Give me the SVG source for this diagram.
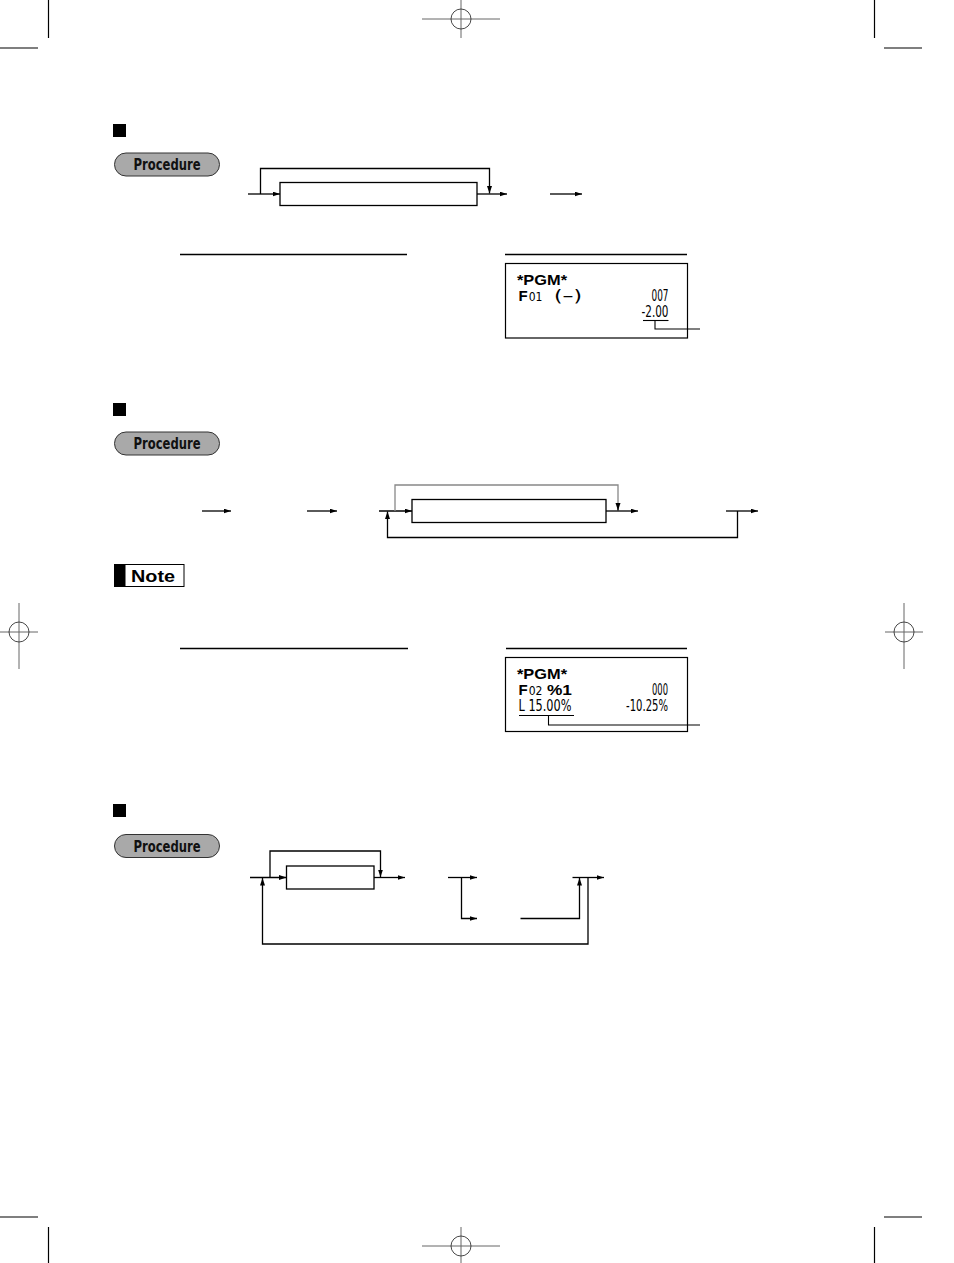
<svg xmlns="http://www.w3.org/2000/svg" width="954" height="1263" viewBox="0 0 954 1263">
<defs>
<marker id="ah" markerUnits="userSpaceOnUse" markerWidth="8" markerHeight="6" refX="7.5" refY="2.5" orient="auto">
<path d="M0,0 L7.5,2.5 L0,5 z" fill="#000"/>
</marker>
<style>
.crop{stroke:#000;stroke-width:1.2;fill:none}
.reg{stroke:#666;stroke-width:1;fill:none}
.regc{stroke:#333;stroke-width:0.9;fill:none}
.conn{stroke:#000;stroke-width:1.3;fill:none}
.conng{stroke:#888;stroke-width:1.3;fill:none}
.arr{marker-end:url(#ah)}
.box{fill:#fff;stroke:#000;stroke-width:1.3}
.sq{fill:#000}
.pill{fill:#a9a9a9;stroke:#333;stroke-width:1}
.ptxt{font-family:"Liberation Sans Narrow","DejaVu Sans Condensed","Liberation Sans",sans-serif;font-weight:bold;font-size:15px;fill:#111;text-anchor:middle}
.sep{stroke:#000;stroke-width:1.3}
.rcpt{fill:#fff;stroke:#000;stroke-width:1.2}
.rb{font-family:"Liberation Sans","DejaVu Sans",sans-serif;font-weight:bold;font-size:15px;fill:#000}
.rn{font-family:"DejaVu Sans Condensed","Liberation Sans Narrow",sans-serif;font-size:15px;fill:#000}
.rs{font-family:"DejaVu Sans Condensed","Liberation Sans Narrow",sans-serif;font-size:12px;fill:#000}
.note{font-family:"Liberation Sans","DejaVu Sans",sans-serif;font-weight:bold;font-size:17px;fill:#000}
</style>
</defs>
<rect width="954" height="1263" fill="#fff"/>

<g id="crop-marks">
<line class="crop" x1="48.5" y1="0" x2="48.5" y2="38"/>
<line class="crop" x1="0" y1="48" x2="38" y2="48"/>
<line class="crop" x1="874.5" y1="0" x2="874.5" y2="38"/>
<line class="crop" x1="884" y1="48" x2="922" y2="48"/>
<line class="crop" x1="48.5" y1="1227" x2="48.5" y2="1263"/>
<line class="crop" x1="0" y1="1217" x2="38" y2="1217"/>
<line class="crop" x1="874.5" y1="1227" x2="874.5" y2="1263"/>
<line class="crop" x1="884" y1="1217" x2="922" y2="1217"/>
<line class="reg" x1="461" y1="0" x2="461" y2="38"/>
<line class="reg" x1="422" y1="19" x2="500" y2="19"/>
<circle class="regc" cx="461" cy="19" r="10"/>
<line class="reg" x1="461" y1="1227" x2="461" y2="1263"/>
<line class="reg" x1="422" y1="1246" x2="500" y2="1246"/>
<circle class="regc" cx="461" cy="1246" r="10"/>
<line class="reg" x1="19" y1="603" x2="19" y2="669"/>
<line class="reg" x1="0" y1="632" x2="38" y2="632"/>
<circle class="regc" cx="19" cy="632" r="10"/>
<line class="reg" x1="904" y1="603" x2="904" y2="669"/>
<line class="reg" x1="885" y1="632" x2="923" y2="632"/>
<circle class="regc" cx="904" cy="632" r="10"/>
</g>

<!-- Section 1 -->
<g id="s1-marker"><rect class="sq" x="113" y="124" width="13" height="13"/></g>
<g id="s1-procedure">
<rect class="pill" x="114.5" y="153" width="105" height="23" rx="11.5"/>
<text class="ptxt" x="167" y="170" textLength="67" lengthAdjust="spacingAndGlyphs">Procedure</text>
</g>
<g id="s1-box"><rect class="box" x="280" y="182.5" width="197" height="23"/></g>
<g id="s1-connectors">
<path class="conn arr" d="M248,194 H280"/>
<path class="conn arr" d="M260.5,194 V168.5 H489.5 V193.5"/>
<path class="conn arr" d="M477,194 H507"/>
<path class="conn arr" d="M550,194 H582"/>
</g>
<g id="s1-separators">
<line class="sep" x1="180" y1="254.5" x2="407" y2="254.5"/>
<line class="sep" x1="505" y1="254.5" x2="687" y2="254.5"/>
</g>
<g id="s1-receipt">
<rect class="rcpt" x="505.5" y="263.5" width="182" height="74.5"/>
<text class="rb" x="517" y="285" textLength="50" lengthAdjust="spacingAndGlyphs">*PGM*</text>
<text x="518.5" y="301"><tspan class="rb">F</tspan><tspan class="rs" dx="1">01</tspan></text>
<text class="rn" x="554" y="301" textLength="28" lengthAdjust="spacingAndGlyphs">(–)</text>
<text class="rn" x="668.5" y="301" text-anchor="end" textLength="17" lengthAdjust="spacingAndGlyphs">007</text>
<text class="rn" x="668.5" y="317" text-anchor="end" textLength="27" lengthAdjust="spacingAndGlyphs">-2.00</text>
<line class="sep" x1="643" y1="320.5" x2="668.5" y2="320.5" style="stroke-width:1.1"/>
<path class="conn" d="M655,320.5 V329 H700" style="stroke-width:1.1"/>
</g>

<!-- Section 2 -->
<g id="s2-marker"><rect class="sq" x="113" y="403" width="13" height="13"/></g>
<g id="s2-procedure">
<rect class="pill" x="114.5" y="432" width="105" height="23" rx="11.5"/>
<text class="ptxt" x="167" y="449" textLength="67" lengthAdjust="spacingAndGlyphs">Procedure</text>
</g>
<g id="s2-box"><rect class="box" x="412" y="499.5" width="194" height="23"/></g>
<g id="s2-connectors">
<path class="conn arr" d="M202,511 H231"/>
<path class="conn arr" d="M307,511 H337"/>
<path class="conn arr" d="M379,511 H412"/>
<path class="conng" d="M395,511 V485 H618 V504"/>
<path class="conn arr" d="M618,503 V510.5"/>
<path class="conn arr" d="M606,511 H638"/>
<path class="conn arr" d="M726,511 H758"/>
<path class="conn arr" d="M737.5,511 V537.5 H387.5 V511.5"/>
</g>
<g id="s2-note">
<rect x="114" y="564" width="11" height="23" fill="#000"/>
<rect x="125" y="564.5" width="59" height="22" fill="#fff" stroke="#000" stroke-width="1"/>
<text class="note" x="131" y="582" textLength="44" lengthAdjust="spacingAndGlyphs">Note</text>
</g>
<g id="s2-separators">
<line class="sep" x1="180" y1="648.5" x2="408" y2="648.5"/>
<line class="sep" x1="506" y1="648.5" x2="687" y2="648.5"/>
</g>
<g id="s2-receipt">
<rect class="rcpt" x="505.5" y="657.5" width="182" height="74"/>
<text class="rb" x="517" y="679" textLength="50" lengthAdjust="spacingAndGlyphs">*PGM*</text>
<text x="518.5" y="695"><tspan class="rb">F</tspan><tspan class="rs" dx="1">02</tspan></text>
<text class="rb" x="547" y="695" textLength="25" lengthAdjust="spacingAndGlyphs">%1</text>
<text class="rn" x="668" y="695" text-anchor="end" textLength="16" lengthAdjust="spacingAndGlyphs">000</text>
<text class="rn" x="518.5" y="711" textLength="53" lengthAdjust="spacingAndGlyphs">L 15.00%</text>
<text class="rn" x="668" y="711" text-anchor="end" textLength="42" lengthAdjust="spacingAndGlyphs">-10.25%</text>
<line class="sep" x1="519" y1="715.5" x2="574" y2="715.5" style="stroke-width:1.1"/>
<path class="conn" d="M548.5,715.5 V725 H700" style="stroke-width:1.1"/>
</g>

<!-- Section 3 -->
<g id="s3-marker"><rect class="sq" x="113" y="804" width="13" height="13"/></g>
<g id="s3-procedure">
<rect class="pill" x="114.5" y="834.5" width="105" height="23" rx="11.5"/>
<text class="ptxt" x="167" y="851.5" textLength="67" lengthAdjust="spacingAndGlyphs">Procedure</text>
</g>
<g id="s3-box"><rect class="box" x="286.5" y="866" width="87.5" height="23"/></g>
<g id="s3-connectors">
<path class="conn arr" d="M250,877.5 H286.5"/>
<path class="conn arr" d="M270,877.5 V851 H380.5 V877"/>
<path class="conn arr" d="M374,877.5 H405"/>
<path class="conn arr" d="M448,877.5 H477"/>
<path class="conn arr" d="M461.5,877.5 V918.5 H477"/>
<path class="conn arr" d="M520.5,918.5 H579.5 V878"/>
<path class="conn arr" d="M572.5,877.5 H604"/>
<path class="conn arr" d="M588,877.5 V944 H262.5 V878"/>
</g>
</svg>
